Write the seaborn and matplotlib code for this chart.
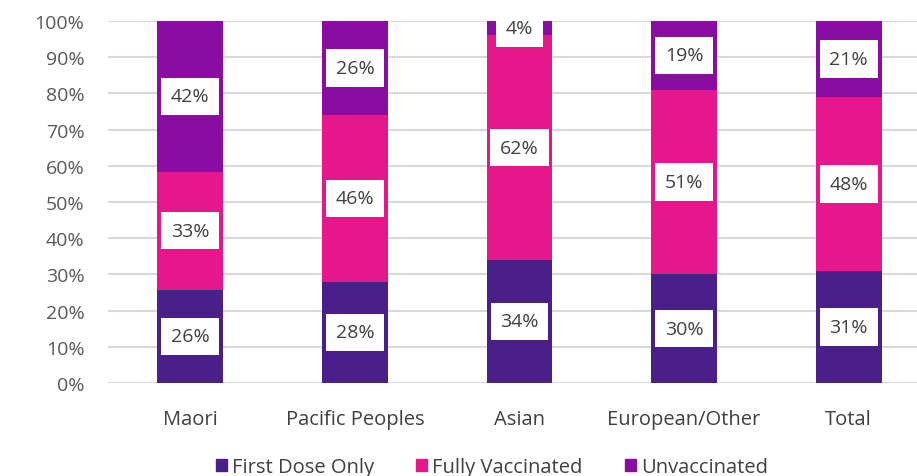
import numpy as np
import pandas as pd
import matplotlib.pyplot as plt
import seaborn as sns

# values (percent)
groups = ['Maori', 'Pacific Peoples', 'Asian', 'European/Other', 'Total']
first_dose = [26, 28, 34, 30, 31]
fully_vacc = [33, 46, 62, 51, 48]
unvacc = [42, 26, 4, 19, 21]
series_names = ['First Dose Only', 'Fully Vaccinated', 'Unvaccinated']
colors = ['#4B1F8A', '#E6168C', '#8B0CA0']
yticks = [0, 10, 20, 30, 40, 50, 60, 70, 80, 90, 100]


def main():
    sns.set_style('white')
    plt.rcParams['font.family'] = ['Open Sans', 'DejaVu Sans']

    df = pd.DataFrame({'group': groups, 'first': first_dose,
                       'fully': fully_vacc, 'unvac': unvacc})
    # 100% stacked: normalise each row
    tot = df[['first', 'fully', 'unvac']].sum(axis=1)
    df['c1'] = df['first'] / tot * 100
    df['c2'] = (df['first'] + df['fully']) / tot * 100
    df['c3'] = 100.0

    fig = plt.figure(figsize=(9.17, 4.77), dpi=100)
    ax = fig.add_axes([108 / 917, 93 / 477, 823 / 917, 362 / 477])

    # draw cumulative tops back to front
    for col, c in zip(['c3', 'c2', 'c1'], colors[::-1]):
        sns.barplot(data=df, x='group', y=col, color=c, width=0.4,
                    saturation=1, ax=ax, edgecolor='none')

    # data labels
    bottoms = [np.zeros(len(groups)), df['c1'].values, df['c2'].values]
    tops = [df['c1'].values, df['c2'].values, df['c3'].values]
    raw = [first_dose, fully_vacc, unvacc]
    for b, t, vals in zip(bottoms, tops, raw):
        for i, v in enumerate(vals):
            y = (b[i] + t[i]) / 2
            ax.text(i, y, f'{v}%', ha='center', va='center', fontsize=14,
                    color='#404040', zorder=5,
                    bbox=dict(boxstyle='square,pad=0.5', fc='white', ec='none'))

    ax.set_ylim(0, 100)
    ax.set_xlim(-0.5, 4.5)
    ax.set_yticks(yticks)
    ax.set_yticklabels([f'{t}%' for t in yticks])
    ax.yaxis.grid(True, color='#D9D9D9', linewidth=1.5)
    ax.set_axisbelow(True)
    for s in ax.spines.values():
        s.set_visible(False)
    ax.tick_params(axis='y', length=0, pad=17, labelsize=14, labelcolor='#595959')
    ax.tick_params(axis='x', length=0, pad=19, labelsize=14.5, labelcolor='#404040')
    ax.set_xlabel('')
    ax.set_ylabel('')

    handles = [plt.Rectangle((0, 0), 1, 1, color=c) for c in colors]
    fig.legend(handles, series_names, loc='center', ncol=3, frameon=False,
               bbox_to_anchor=(492 / 917, 1 - 468 / 477), fontsize=14.5,
               handlelength=0.55, handleheight=0.55, handletextpad=0.25,
               columnspacing=2.1, labelcolor='#404040')

    fig.savefig('out.png', dpi=100)
    plt.close(fig)


if __name__ == "__main__":
    main()
